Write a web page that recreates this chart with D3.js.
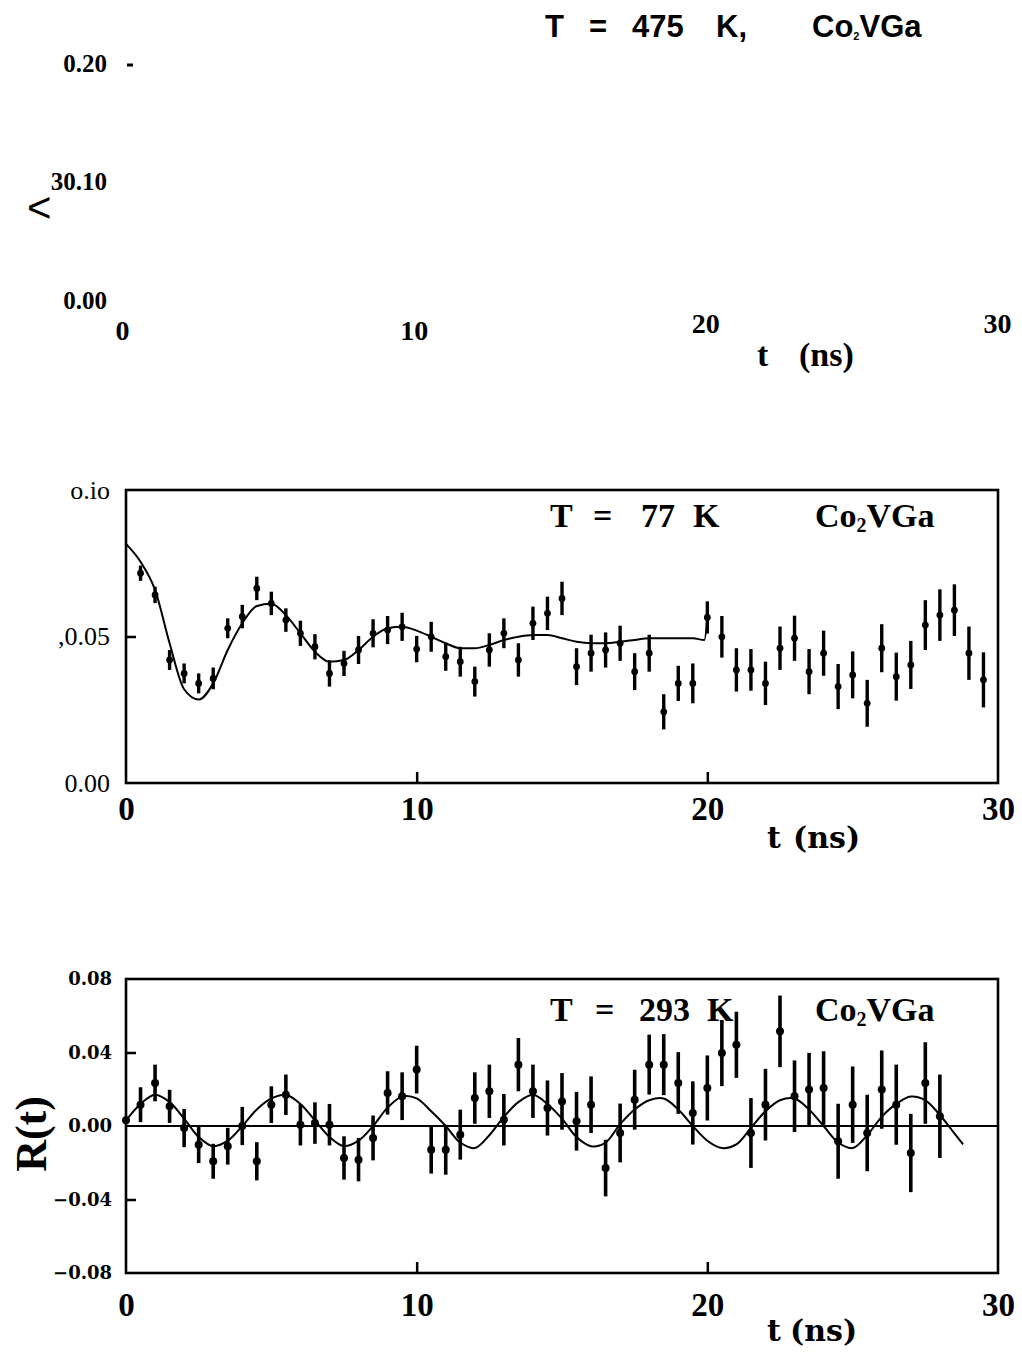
<!DOCTYPE html>
<html>
<head>
<meta charset="utf-8">
<script src="https://cdn.jsdelivr.net/npm/d3@7"></script>
<style>
  body { margin: 0; background: #fff; }
  svg { display: block; }
</style>
</head>
<body>
<svg id="fig" width="1022" height="1353"></svg>
<script>
// ---- data ----
// top panel (475 K): only the axis labels survived the scan
const topYTicks = [0, 0.1, 0.2];
const topYLabels = ["0.00", "30.10", "0.20"];
const xTicks = [0, 10, 20, 30];

// middle panel, T = 77 K
const midYTicks = [0, 0.05, 0.1];
const midYLabels = ["0.00", ",0.05", "o.io"];
const t77 = [0.5, 1.0, 1.5, 2.0, 2.5, 3.0, 3.5, 4.0, 4.5, 5.0,
  5.5, 6.0, 6.5, 7.0, 7.5, 8.0, 8.5, 9.0, 9.5, 10.0,
  10.5, 11.0, 11.5, 12.0, 12.5, 13.0, 13.5, 14.0, 14.5, 15.0,
  15.5, 16.0, 16.5, 17.0, 17.5, 18.0, 18.5, 19.0, 19.5, 20.0,
  20.5, 21.0, 21.5, 22.0, 22.5, 23.0, 23.5, 24.0, 24.5, 25.0,
  25.5, 26.0, 26.5, 27.0, 27.5, 28.0, 28.5, 29.0, 29.5];
const r77 = [0.0716, 0.0642, 0.0420, 0.0374, 0.0340, 0.0357, 0.0528, 0.0568, 0.0664, 0.0613,
  0.0556, 0.0511, 0.0465, 0.0374, 0.0408, 0.0454, 0.0511, 0.0522, 0.0533, 0.0457,
  0.0499, 0.0431, 0.0414, 0.0346, 0.0454, 0.0511, 0.0420, 0.0545, 0.0579, 0.0630,
  0.0397, 0.0443, 0.0454, 0.0477, 0.0380, 0.0443, 0.0243, 0.0340, 0.0340, 0.0565,
  0.0499, 0.0386, 0.0386, 0.0340, 0.0460, 0.0494, 0.0380, 0.0443, 0.0329, 0.0369,
  0.0272, 0.0460, 0.0363, 0.0403, 0.0539, 0.0573, 0.0590, 0.0443, 0.0352];
const e77 = [0.0026, 0.0028, 0.0034, 0.0034, 0.0034, 0.0037, 0.0034, 0.0040, 0.0040, 0.0040,
  0.0040, 0.0043, 0.0043, 0.0045, 0.0043, 0.0048, 0.0048, 0.0048, 0.0048, 0.0045,
  0.0051, 0.0048, 0.0051, 0.0051, 0.0057, 0.0051, 0.0057, 0.0057, 0.0057, 0.0057,
  0.0063, 0.0063, 0.0060, 0.0060, 0.0063, 0.0063, 0.0060, 0.0060, 0.0068, 0.0055,
  0.0071, 0.0074, 0.0071, 0.0074, 0.0074, 0.0077, 0.0077, 0.0077, 0.0077, 0.0080,
  0.0080, 0.0082, 0.0082, 0.0082, 0.0085, 0.0088, 0.0088, 0.0091, 0.0094];
const fitT77 = [0, 0.5, 1.0, 1.5, 2.0, 2.5, 3.0, 3.5, 4.0, 4.5, 5.0, 5.5, 6.0, 6.5, 7.0, 7.5,
  8.0, 8.5, 9.0, 9.5, 10.0, 10.5, 11.0, 11.5, 12.0, 12.5, 13.0, 13.5, 14.0, 14.5, 15.0,
  15.5, 16.0, 16.5, 17.0, 17.5, 18.0, 18.5, 19.0, 19.5, 19.9, 20.0];
const fitR77 = [0.0816, 0.0755, 0.0659, 0.0477, 0.0320, 0.0285, 0.0340, 0.0454, 0.0545, 0.0604,
  0.0612, 0.0573, 0.0511, 0.0448, 0.0414, 0.0420, 0.0454, 0.0499, 0.0528, 0.0533,
  0.0520, 0.0499, 0.0477, 0.0460, 0.0460, 0.0471, 0.0488, 0.0499, 0.0505, 0.0505,
  0.0494, 0.0482, 0.0477, 0.0477, 0.0482, 0.0488, 0.0494, 0.0494, 0.0494, 0.0494,
  0.0488, 0.0565];

// bottom panel, T = 293 K
const botYTicks = [-0.08, -0.04, 0, 0.04, 0.08];
const t293 = [0, 0.5, 1.0, 1.5, 2.0, 2.5, 3.0, 3.5, 4.0, 4.5, 5.0, 5.5, 6.0, 6.5, 7.0,
  7.5, 8.0, 8.5, 9.0, 9.5, 10.0, 10.5, 11.0, 11.5, 12.0, 12.5, 13.0, 13.5, 14.0,
  14.5, 15.0, 15.5, 16.0, 16.5, 17.0, 17.5, 18.0, 18.5, 19.0, 19.5, 20.0, 20.5, 21.0,
  21.5, 22.0, 22.5, 23.0, 23.5, 24.0, 24.5, 25.0, 25.5, 26.0, 26.5, 27.0, 27.5, 28.0];
const r293 = [0.0031, 0.0116, 0.0234, 0.0107, -0.0011, -0.0102, -0.0192, -0.0110, 0.0000, -0.0192,
  0.0116, 0.0170, 0.0007, 0.0016, 0.0007, -0.0174, -0.0183, -0.0065, 0.0180, 0.0162,
  0.0307, -0.0129, -0.0129, -0.0047, 0.0152, 0.0189, 0.0034, 0.0334, 0.0189, 0.0098,
  0.0134, 0.0026, 0.0116, -0.0229, -0.0038, 0.0143, 0.0334, 0.0334, 0.0234, 0.0071,
  0.0207, 0.0397, 0.0442, -0.0038, 0.0116, 0.0515, 0.0162, 0.0198, 0.0207, -0.0083,
  0.0116, -0.0038, 0.0198, 0.0116, -0.0147, 0.0234, 0.0053];
const e293 = [0.0020, 0.0095, 0.0100, 0.0090, 0.0104, 0.0100, 0.0095, 0.0100, 0.0104, 0.0104,
  0.0100, 0.0110, 0.0113, 0.0113, 0.0113, 0.0118, 0.0118, 0.0122, 0.0118, 0.0130,
  0.0130, 0.0130, 0.0136, 0.0136, 0.0140, 0.0145, 0.0140, 0.0145, 0.0145, 0.0150,
  0.0154, 0.0160, 0.0154, 0.0154, 0.0160, 0.0163, 0.0163, 0.0166, 0.0168, 0.0172,
  0.0177, 0.0180, 0.0180, 0.0190, 0.0195, 0.0195, 0.0195, 0.0200, 0.0200, 0.0204,
  0.0208, 0.0208, 0.0213, 0.0218, 0.0213, 0.0222, 0.0227];
const fitT293 = [0, 0.5, 1.0, 1.5, 2.0, 2.5, 3.0, 3.5, 4.0, 4.5, 5.0, 5.5, 6.0, 6.5, 7.0,
  7.5, 8.0, 8.5, 9.0, 9.5, 10.0, 10.5, 11.0, 11.5, 12.0, 12.5, 13.0, 13.5, 14.0,
  14.5, 15.0, 15.5, 16.0, 16.5, 17.0, 17.5, 18.0, 18.5, 19.0, 19.5, 20.0, 20.5, 21.0,
  21.5, 22.0, 22.5, 23.0, 23.5, 24.0, 24.5, 25.0, 25.5, 26.0, 26.5, 27.0, 27.5, 28.0,
  28.5, 28.8];
const fitR293 = [0.003, 0.012, 0.017, 0.013, 0.004, -0.006, -0.011, -0.008, 0.000, 0.009,
  0.015, 0.017, 0.012, 0.003, -0.006, -0.011, -0.008, 0.000, 0.010, 0.016,
  0.015, 0.008, 0.000, -0.009, -0.012, -0.005, 0.005, 0.013, 0.017, 0.012,
  0.004, -0.006, -0.011, -0.009, 0.001, 0.009, 0.014, 0.015, 0.009, 0.000,
  -0.008, -0.012, -0.010, -0.001, 0.008, 0.014, 0.015, 0.009, 0.000, -0.009,
  -0.012, -0.005, 0.005, 0.012, 0.016, 0.014, 0.006, -0.004, -0.010];

// ---- drawing ----
const svg = d3.select("#fig");
svg.append("rect").attr("width", 1022).attr("height", 1353).attr("fill", "#fff");

const SERIF = "'Liberation Serif', 'Times New Roman', serif";
const WIDE_SERIF = "'DejaVu Serif', serif";
const SANS = "'Liberation Sans', Arial, sans-serif";

const x = d3.scaleLinear().domain([0, 30]).range([126, 998]);
const xTop = d3.scaleLinear().domain([0, 30]).range([122, 997]);
const yTop = d3.scaleLinear().domain([0, 0.2]).range([300, 63]);
const yMid = d3.scaleLinear().domain([0, 0.1]).range([783, 490]);
const yBot = d3.scaleLinear().domain([-0.08, 0.08]).range([1273, 979]);

// words placed one by one, the scan has wide gaps
function words(list, y, font, size, weight) {
  list.forEach(([str, wx]) => {
    svg.append("text")
      .attr("x", wx).attr("y", y)
      .style("font-family", font)
      .style("font-size", size + "px")
      .style("font-weight", weight)
      .text(str);
  });
}

function formula(wx, y, font, size, subSize, subDrop) {
  const t = svg.append("text")
    .attr("x", wx).attr("y", y)
    .style("font-family", font)
    .style("font-size", size + "px")
    .style("font-weight", "bold");
  t.append("tspan").text("Co");
  t.append("tspan").attr("dy", subDrop).style("font-size", subSize + "px").text("2");
  t.append("tspan").attr("dy", -subDrop).text("VGa");
}

// ===== top panel (T = 475 K) =====
words([["T", 545], ["=", 589], ["475", 632], ["K,", 716]], 37, SANS, 31, "bold");
formula(812, 37, SANS, 31, 11, 3);

svg.append("g")
  .attr("transform", "translate(118,0)")
  .call(d3.axisLeft(yTop).tickValues(topYTicks)
    .tickFormat((d, i) => topYLabels[i]).tickSize(0).tickPadding(11))
  .call(g => g.select(".domain").remove())
  .call(g => g.selectAll("text")
    .style("font-family", SERIF).style("font-size", "25px").style("font-weight", "bold")
    .attr("fill", "#000"));
// little dash next to 0.20
svg.append("line")
  .attr("x1", 127).attr("x2", 133)
  .attr("y1", yTop(0.2) + 2).attr("y2", yTop(0.2) + 2)
  .attr("stroke", "#000").attr("stroke-width", 3);
svg.append("text").attr("x", 27).attr("y", 222)
  .style("font-family", SANS).style("font-size", "42px").text("<");

svg.append("g")
  .attr("transform", "translate(0,300)")
  .call(d3.axisBottom(xTop).tickValues(xTicks).tickFormat(d3.format("d")).tickSize(0).tickPadding(20))
  .call(g => g.select(".domain").remove())
  .call(g => g.selectAll("text")
    .attr("y", d => d >= 20 ? 13 : 20)
    .style("font-family", SERIF).style("font-size", "28px").style("font-weight", "bold")
    .attr("fill", "#000"));
words([["t", 757], ["(ns)", 799]], 366, SERIF, 34, "bold");

// ===== shared panel helpers =====
function framedPanel(y, innerYTicks) {
  const top = y.range()[1], bottom = y.range()[0];
  const left = x.range()[0], right = x.range()[1];
  const g = svg.append("g");

  // inward tick marks
  g.append("g")
    .attr("transform", `translate(0,${bottom})`)
    .call(d3.axisBottom(x).tickValues([10, 20]).tickFormat("").tickSizeInner(-11).tickSizeOuter(0))
    .call(a => a.select(".domain").remove())
    .call(a => a.selectAll("line").attr("stroke-width", 2.5));
  g.append("g")
    .attr("transform", `translate(${left},0)`)
    .call(d3.axisLeft(y).tickValues(innerYTicks).tickFormat("").tickSizeInner(-10).tickSizeOuter(0))
    .call(a => a.select(".domain").remove())
    .call(a => a.selectAll("line").attr("stroke-width", 2.5));

  g.append("rect")
    .attr("x", left).attr("y", top)
    .attr("width", right - left).attr("height", bottom - top)
    .attr("fill", "none").attr("stroke", "#000").attr("stroke-width", 2.6);
  return g;
}

function xLabels(bottom, pad) {
  svg.append("g")
    .attr("transform", `translate(0,${bottom})`)
    .call(d3.axisBottom(x).tickValues(xTicks).tickFormat(d3.format("d")).tickSize(0).tickPadding(pad))
    .call(g => g.select(".domain").remove())
    .call(g => g.selectAll("text")
      .style("font-family", SERIF).style("font-size", "33px").style("font-weight", "bold")
      .attr("fill", "#000"));
}

function dataPoints(y, ts, rs, es, r, w) {
  const pts = ts.map((t, i) => ({ t, v: rs[i], e: es[i] }));
  const g = svg.append("g");
  g.selectAll("line.err").data(pts).join("line")
    .attr("class", "err")
    .attr("x1", d => x(d.t)).attr("x2", d => x(d.t))
    .attr("y1", d => y(d.v - d.e)).attr("y2", d => y(d.v + d.e))
    .attr("stroke", "#000").attr("stroke-width", w);
  g.selectAll("circle").data(pts).join("circle")
    .attr("cx", d => x(d.t)).attr("cy", d => y(d.v)).attr("r", r)
    .attr("fill", "#000");
}

function fitLine(y, ts, rs, curve) {
  const pts = ts.map((t, i) => [t, rs[i]]);
  svg.append("path")
    .datum(pts)
    .attr("fill", "none").attr("stroke", "#000").attr("stroke-width", 2)
    .attr("d", d3.line().x(d => x(d[0])).y(d => y(d[1])).curve(curve));
}

// ===== middle panel (T = 77 K) =====
framedPanel(yMid, [0.05]);
svg.append("g")
  .attr("transform", `translate(${x(0)},0)`)
  .call(d3.axisLeft(yMid).tickValues(midYTicks)
    .tickFormat((d, i) => midYLabels[i]).tickSize(0).tickPadding(16))
  .call(g => g.select(".domain").remove())
  .call(g => g.selectAll("text")
    .style("font-family", SERIF).style("font-size", "26px")
    .attr("fill", "#000"));
xLabels(yMid.range()[0], 14);
fitLine(yMid, fitT77, fitR77, d3.curveMonotoneX);
dataPoints(yMid, t77, r77, e77, 3.4, 3.4);
words([["T", 550], ["=", 593], ["77", 641], ["K", 693]], 527, SERIF, 34, "bold");
formula(815, 527, SERIF, 34, 20, 5);
words([["t", 767], ["(ns)", 793]], 848, WIDE_SERIF, 30, "bold");

// ===== bottom panel (T = 293 K) =====
framedPanel(yBot, [-0.04, 0.04]);
svg.append("line")
  .attr("x1", x(0)).attr("x2", x(30))
  .attr("y1", yBot(0)).attr("y2", yBot(0))
  .attr("stroke", "#000").attr("stroke-width", 2);
svg.append("g")
  .attr("transform", `translate(${x(0)},0)`)
  .call(d3.axisLeft(yBot).tickValues(botYTicks).tickFormat(d3.format(".2f")).tickSize(0).tickPadding(14))
  .call(g => g.select(".domain").remove())
  .call(g => g.selectAll("text")
    .style("font-family", WIDE_SERIF).style("font-size", "18px").style("font-weight", "bold")
    .attr("fill", "#000"));
xLabels(yBot.range()[0], 20);
fitLine(yBot, fitT293, fitR293, d3.curveCatmullRom);
dataPoints(yBot, t293, r293, e293, 4, 3.6);
words([["T", 550], ["=", 595], ["293", 639], ["K", 707]], 1021, SERIF, 34, "bold");
formula(815, 1021, SERIF, 34, 20, 5);
words([["t", 767], ["(ns)", 790]], 1341, WIDE_SERIF, 30, "bold");

svg.append("text")
  .attr("transform", "translate(46,1134) rotate(-90)")
  .attr("text-anchor", "middle")
  .style("font-family", SERIF).style("font-size", "44px").style("font-weight", "bold")
  .text("R(t)");
</script>
</body>
</html>
